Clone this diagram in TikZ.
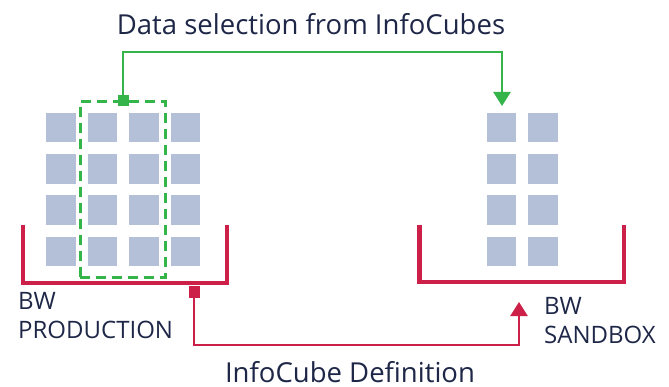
\documentclass[tikz,border=0pt]{standalone}
\usepackage{fontspec}
\setmainfont{Open Sans}
\usetikzlibrary{arrows.meta,positioning,fit}
\definecolor{cubeblue}{HTML}{B4C0D8}
\definecolor{selgreen}{HTML}{35B44A}
\definecolor{defred}{HTML}{CC2048}
\definecolor{labelnavy}{HTML}{1E2747}

\begin{document}
\begin{tikzpicture}[x=1pt, y=-1pt,
  cube/.style={shape=rectangle, fill=cubeblue, minimum size=29.5pt, inner sep=0pt},
  marker/.style={shape=rectangle, minimum size=11pt, inner sep=0pt},
  flowline/.style={line width=2.5pt, -{Triangle[width=17pt, length=14pt]}},
  bracket/.style={line width=4.5pt, draw=defred},
  caption/.style={text=labelnavy, font=\fontsize{27.5}{30}\selectfont, inner sep=0pt, anchor=base},
  boxlabel/.style={text=labelnavy, font=\fontsize{24}{29}\selectfont, inner sep=0pt, align=left, anchor=north west}]
\useasboundingbox (0,0) rectangle (669,387);

% BW production
\matrix (prodcubes) at (123,189.5) [column sep=12pt, row sep=11.8pt] {
\node[cube](p11){}; & \node[cube](p12){}; & \node[cube](p13){}; & \node[cube](p14){}; \\
\node[cube](p21){}; & \node[cube](p22){}; & \node[cube](p23){}; & \node[cube](p24){}; \\
\node[cube](p31){}; & \node[cube](p32){}; & \node[cube](p33){}; & \node[cube](p34){}; \\
\node[cube](p41){}; & \node[cube](p42){}; & \node[cube](p43){}; & \node[cube](p44){}; \\
};
\draw[bracket] (23,225) -- (23,283) -- (227,283) -- (227,225);
\node[boxlabel] (prodlabel) at (18,292) {BW\\PRODUCTION};

% BW sandbox
\matrix (sandcubes) at (522,189.5) [column sep=12pt, row sep=11.8pt] {
\node[cube](s11){}; & \node[cube](s12){}; \\
\node[cube](s21){}; & \node[cube](s22){}; \\
\node[cube](s31){}; & \node[cube](s32){}; \\
\node[cube](s41){}; & \node[cube](s42){}; \\
};
\draw[bracket] (419.5,225) -- (419.5,282) -- (624,282) -- (624,225);
\node[boxlabel] (sandlabel) at (544,297) {BW\\SANDBOX};

% data selection
\node[draw=selgreen, line width=3pt, dash pattern=on 10pt off 6pt, fit=(p12)(p43), inner xsep=7pt, inner ysep=11pt] (selbox) {};
\node[marker, fill=selgreen] (selmark) at (selbox.north) {};
\coordinate (selbend) at (502,52);
\coordinate (seltip) at (502,106);
\draw[flowline, selgreen] (selmark.center) |- (selbend) -- (seltip);
\node[caption] (seltitle) at (311,35) {Data selection from InfoCubes};

% infocube definition
\node[marker, fill=defred] (defmark) at (194,292) {};
\coordinate (defbend) at (519,345);
\coordinate (deftip) at (519,302);
\draw[flowline, defred] (defmark.center) |- (defbend) -- (deftip);
\node[caption] (deftitle) at (350,382) {InfoCube Definition};
\end{tikzpicture}
\end{document}
